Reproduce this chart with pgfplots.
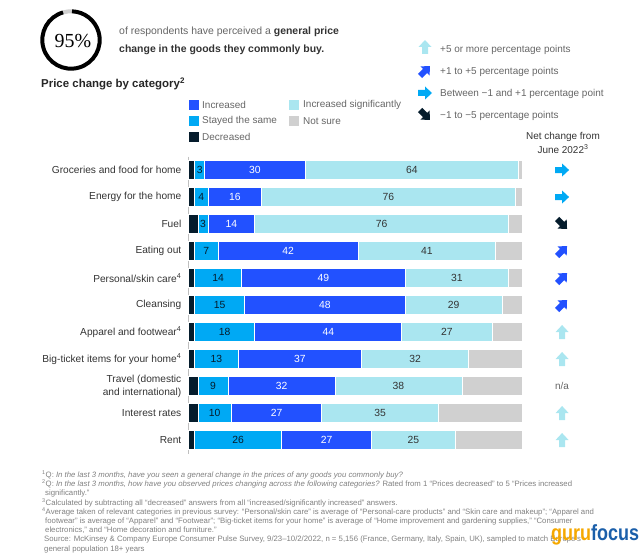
\documentclass[border=0pt]{standalone}
\usepackage{pgfplots}
\pgfplotsset{compat=1.18}
\usepackage{pgfplotstable}
\usepackage{fontspec}
\setmainfont{Liberation Sans}
\newfontfamily\numfont{Liberation Serif}

\definecolor{cDark}{HTML}{051C2C}
\definecolor{cSame}{HTML}{00A9F4}
\definecolor{cInc}{HTML}{2251FF}
\definecolor{cSig}{HTML}{AAE6F0}
\definecolor{cNs}{HTML}{D0D0D0}
\definecolor{cText}{HTML}{333333}
\definecolor{cGray}{HTML}{666666}
\definecolor{cNote}{HTML}{808080}
\definecolor{cGuru}{HTML}{F5A800}
\definecolor{cFocus}{HTML}{1B5FAA}

% share of answers per category, in %
\pgfplotstableread{
cat dec same inc sig ns
0   2   3    30  64  1
1   2   4    16  76  2
2   3   3    14  76  4
3   2   7    42  41  8
4   2   14   49  31  4
5   2   15   48  29  6
6   2   18   44  27  9
7   2   13   37  32  16
8   3   9    32  38  18
9   3   10   27  35  25
10  2   26   27  25  20
}\pricedata

% net change arrows (column at x = 112)
\pgfplotstableread{
x   y
112 6
112 7
112 9
112 10
}\arrowup
\pgfplotstableread{
x   y
112 3
112 4
112 5
}\arrowdiag
\pgfplotstableread{
x   y
112 0
112 1
}\arrowright
\pgfplotstableread{
x   y
112 2
}\arrowdown

\pgfdeclareplotmark{arR}{%
  \pgfpathmoveto{\pgfqpoint{-7bp}{-3bp}}%
  \pgfpathlineto{\pgfqpoint{0bp}{-3bp}}%
  \pgfpathlineto{\pgfqpoint{0bp}{-6.5bp}}%
  \pgfpathlineto{\pgfqpoint{7bp}{0bp}}%
  \pgfpathlineto{\pgfqpoint{0bp}{6.5bp}}%
  \pgfpathlineto{\pgfqpoint{0bp}{3bp}}%
  \pgfpathlineto{\pgfqpoint{-7bp}{3bp}}%
  \pgfpathclose\pgfusepathqfill}
\pgfdeclareplotmark{arU}{\pgftransformrotate{90}\pgfuseplotmark{arR}}
\pgfdeclareplotmark{arD}{\pgftransformrotate{45}\pgfuseplotmark{arR}}
\pgfdeclareplotmark{arS}{\pgftransformrotate{-45}\pgfuseplotmark{arR}}

% stacked bars put nodes near coords in the middle of each segment already
\pgfplotsset{
  seglabel/.style 2 args={
    nodes near coords={\pgfmathprintnumber[assume math mode=true, int detect]{\rawv}},
    visualization depends on={\thisrow{#1} \as \rawv},
    every node near coord/.style={anchor=center,
      text=#2, font=\fontsize{10.4}{12}\selectfont, inner sep=0pt}},
}

\begin{document}
\begin{tikzpicture}[x=1bp, y=-1bp]
\path[use as bounding box] (0,0) rectangle (639,559);

% header
\draw[cNs, line width=4bp] (71,40) ++(88:28.7bp) arc[start angle=88, end angle=106, radius=28.7bp];
\draw[black, line width=4bp] (71,40) ++(106:28.7bp) arc[start angle=106, end angle=448, radius=28.7bp];
\node[font=\numfont\fontsize{20}{20}\selectfont, text=black] at (73,41) {95\%};
\node[anchor=west, inner sep=0pt, font=\fontsize{10.5}{12}\selectfont, text=cGray] at (119,32)
  {of respondents have perceived a \textcolor{cText}{\textbf{general price}}};
\node[anchor=west, inner sep=0pt, font=\fontsize{10.5}{12}\selectfont\bfseries, text=cText] at (119,50)
  {change in the goods they commonly buy.};
\node[anchor=west, inner sep=0pt, font=\fontsize{11.5}{13}\selectfont\bfseries, text=black!85] at (41,84)
  {Price change by category\textsuperscript{2}};

% bar legend
\begin{scope}[font=\fontsize{10}{12}\selectfont, text=cGray]
\fill[cInc]  (189,100) rectangle (199,110);
\node[anchor=west, inner sep=0pt] at (202,105) {Increased};
\fill[cSame] (189,116) rectangle (199,126);
\node[anchor=west, inner sep=0pt] at (202,121) {Stayed the same};
\fill[cDark] (189,132) rectangle (199,142);
\node[anchor=west, inner sep=0pt] at (202,137) {Decreased};
\fill[cSig]  (289,100) rectangle (299,110);
\node[anchor=west, inner sep=0pt] at (303,105) {Increased significantly};
\fill[cNs]   (289,116) rectangle (299,126);
\node[anchor=west, inner sep=0pt] at (303,121) {Not sure};
\end{scope}

% arrow legend
\begin{scope}[shift={(425,47)}]\pgfsetfillcolor{cSig}\pgfuseplotmark{arU}\end{scope}
\begin{scope}[shift={(425,71)}]\pgfsetfillcolor{cInc}\pgfuseplotmark{arD}\end{scope}
\begin{scope}[shift={(425,93)}]\pgfsetfillcolor{cSame}\pgfuseplotmark{arR}\end{scope}
\begin{scope}[shift={(425,115)}]\pgfsetfillcolor{cDark}\pgfuseplotmark{arS}\end{scope}
\begin{scope}[font=\fontsize{10}{12}\selectfont, text=cGray]
\node[anchor=west, inner sep=0pt] at (440,50) {+5 or more percentage points};
\node[anchor=west, inner sep=0pt] at (440,72) {+1 to +5 percentage points};
\node[anchor=west, inner sep=0pt] at (440,94) {Between −1 and +1 percentage point};
\node[anchor=west, inner sep=0pt] at (440,116) {−1 to −5 percentage points};
\node[inner sep=0pt, text=cText] at (563,137) {Net change from};
\node[inner sep=0pt, text=cText] at (563,149) {June 2022\textsuperscript{3}};
\end{scope}

\begin{axis}[
  at={(188bp,-453.5bp)}, anchor=south west,
  scale only axis, width=334bp, height=297bp,
  xbar stacked, bar width=19bp,
  xmin=0, xmax=100, ymin=-0.5, ymax=10.5, y dir=reverse,
  hide x axis, axis y line*=left,
  y axis line style={draw=black!25, line width=0.8bp},
  ytick={0,...,10}, major tick length=0pt,
  yticklabels={Groceries and food for home, Energy for the home, Fuel, Eating out,
    Personal/skin care\textsuperscript{4}, Cleansing, Apparel and footwear\textsuperscript{4},
    Big-ticket items for your home\textsuperscript{4}, {Travel (domestic\\and international)},
    Interest rates, Rent},
  yticklabel style={font=\fontsize{10.2}{13}\selectfont, text=cText, align=right,
    inner sep=0pt, xshift=-6.5bp},
  clip=false,
]
\addplot[fill=cDark, draw=white, line width=0.7bp] table[x=dec, y=cat] {\pricedata};
\addplot[fill=cSame, draw=white, line width=0.7bp, seglabel={same}{cDark}] table[x=same, y=cat] {\pricedata};
\addplot[fill=cInc, draw=white, line width=0.7bp, seglabel={inc}{white}] table[x=inc, y=cat] {\pricedata};
\addplot[fill=cSig, draw=white, line width=0.7bp, seglabel={sig}{cText}] table[x=sig, y=cat] {\pricedata};
\addplot[fill=cNs, draw=white, line width=0.7bp] table[x=ns, y=cat] {\pricedata};
\end{axis}

\begin{axis}[
  at={(188bp,-453.5bp)}, anchor=south west,
  scale only axis, width=334bp, height=297bp,
  xmin=0, xmax=100, ymin=-0.5, ymax=10.5, y dir=reverse,
  hide axis, clip=false,
]
\addplot[only marks, mark=arU, color=cSig, mark options={fill=cSig}] table {\arrowup};
\addplot[only marks, mark=arD, color=cInc, mark options={fill=cInc}] table {\arrowdiag};
\addplot[only marks, mark=arR, color=cSame, mark options={fill=cSame}] table {\arrowright};
\addplot[only marks, mark=arS, color=cDark, mark options={fill=cDark}] table {\arrowdown};
\node[font=\fontsize{10}{12}\selectfont, text=cGray] at (axis cs:112,8) {n/a};
\end{axis}

% footnotes
\begin{scope}[font=\fontsize{7.8}{8}\selectfont, text=cNote]
\node[anchor=west, inner sep=0pt] at (42,475) {\textsuperscript{1}Q: \textit{In the last 3 months, have you seen a general change in the prices of any goods you commonly buy?}};
\node[anchor=west, inner sep=0pt] at (42,484.25) {\textsuperscript{2}Q: \textit{In the last 3 months, how have you observed prices changing across the following categories?} Rated from 1 “Prices decreased” to 5 “Prices increased};
\node[anchor=west, inner sep=0pt] at (45,493.5) {significantly.”};
\node[anchor=west, inner sep=0pt] at (42,502.75) {\textsuperscript{3}Calculated by subtracting all “decreased” answers from all “increased/significantly increased” answers.};
\node[anchor=west, inner sep=0pt] at (42,512) {\textsuperscript{4}Average taken of relevant categories in previous survey: “Personal/skin care” is average of “Personal-care products” and “Skin care and makeup”; “Apparel and};
\node[anchor=west, inner sep=0pt] at (45,521.25) {footwear” is average of “Apparel” and “Footwear”; “Big-ticket items for your home” is average of “Home improvement and gardening supplies,” “Consumer};
\node[anchor=west, inner sep=0pt] at (45,530.5) {electronics,” and “Home decoration and furniture.”};
\node[anchor=west, inner sep=0pt] at (44,539.75) {Source: McKinsey \& Company Europe Consumer Pulse Survey, 9/23–10/2/2022, n = 5,156 (France, Germany, Italy, Spain, UK), sampled to match Europe’s};
\node[anchor=west, inner sep=0pt] at (44,549) {general population 18+ years};
\end{scope}

% watermark
\node[anchor=base west, inner sep=0pt, font=\fontsize{22}{22}\selectfont\bfseries] at (551,540)
  {\scalebox{0.82}[1]{\textcolor{cGuru}{guru}\textcolor{cFocus}{focus}}};
\end{tikzpicture}
\end{document}
